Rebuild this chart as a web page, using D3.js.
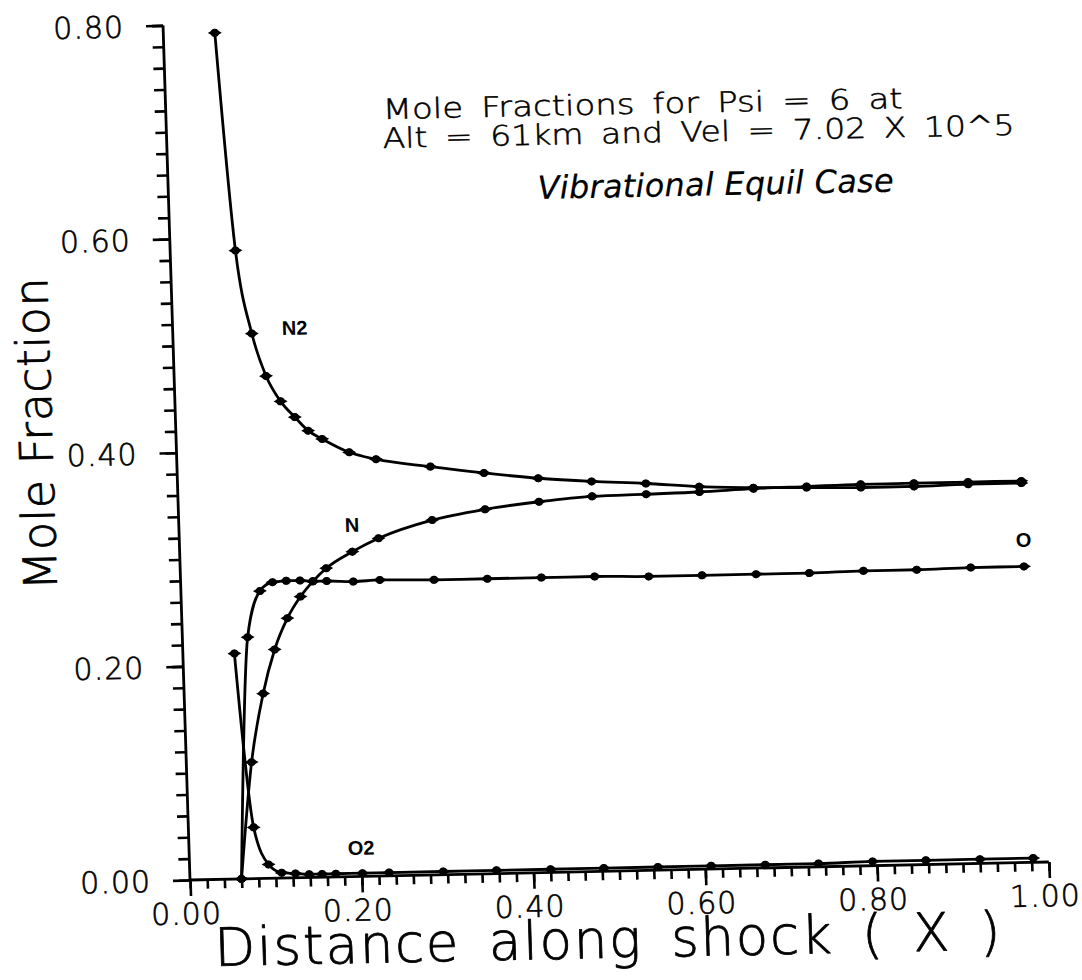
<!DOCTYPE html>
<html>
<head>
<meta charset="utf-8">
<script src="https://cdn.jsdelivr.net/npm/d3@7"></script>
<style>
  html, body { margin: 0; padding: 0; background: #fff; }
  svg { display: block; }
</style>
</head>
<body>
<svg id="chart" width="1082" height="980"></svg>
<script>
// Distance along the shock (shared by every species)
const distance = [0.060, 0.076, 0.092, 0.107, 0.123, 0.139, 0.154, 0.170, 0.201, 0.232,
                  0.295, 0.357, 0.420, 0.482, 0.545, 0.607, 0.670, 0.732, 0.795, 0.857, 0.920, 0.982];

// Mole fractions per species
const fracN2 = [0.792, 0.588, 0.510, 0.470, 0.446, 0.431, 0.418, 0.410, 0.397, 0.390,
                0.382, 0.375, 0.369, 0.365, 0.362, 0.358, 0.356, 0.355, 0.354, 0.354, 0.355, 0.355];
const fracN  = [0.000, 0.109, 0.173, 0.214, 0.243, 0.263, 0.277, 0.289, 0.304, 0.316,
                0.332, 0.341, 0.347, 0.351, 0.352, 0.353, 0.355, 0.356, 0.357, 0.357, 0.357, 0.357];
const fracO  = [0.000, 0.226, 0.269, 0.277, 0.278, 0.278, 0.277, 0.277, 0.276, 0.277,
                0.276, 0.276, 0.276, 0.276, 0.275, 0.275, 0.275, 0.275, 0.276, 0.276, 0.277, 0.277];
const fracO2 = [0.211, 0.048, 0.013, 0.005, 0.004, 0.003, 0.003, 0.003, 0.003, 0.003,
                0.003, 0.003, 0.003, 0.003, 0.003, 0.003, 0.003, 0.003, 0.004, 0.004, 0.004, 0.004];

const speciesNames = ["N2", "N", "O", "O2"];

// Axis ticks
const xMajorTicks = [0, 0.2, 0.4, 0.6, 0.8, 1.0];
const yMajorTicks = [0, 0.2, 0.4, 0.6, 0.8];
const xMinorStep = 0.02;
const yMinorStep = 0.02;

const titleLines = ["Mole Fractions for Psi = 6 at", "Alt = 61km and Vel = 7.02 X 10^5"];
const noteLine = "Vibrational Equil Case";
const xTitle = "Distance along shock ( X )";
const yTitle = "Mole Fraction";

// ---- layout ----
const ox = 190, oy = 880;          // plot origin
const plotW = 859, plotH = 855;
// The sheet sits slightly turned; the whole drawing shares this frame.
const tilt = { a: 0.9998, b: -0.02095, c: 0.03156, d: 0.99953 };
function toFrame(px, py) {
  const X = px - ox, Y = py - oy;
  return [ox + tilt.d * X - tilt.c * Y, oy - tilt.b * X + tilt.a * Y];
}

const svg = d3.select("#chart");
svg.append("rect").attr("width", 1082).attr("height", 980).attr("fill", "#fff");

const g = svg.append("g")
  .attr("transform", `translate(${ox},${oy}) matrix(${tilt.a},${tilt.b},${tilt.c},${tilt.d},0,0) translate(${-ox},${-oy})`);

const x = d3.scaleLinear().domain([0, 1]).range([ox, ox + plotW]);
const y = d3.scaleLinear().domain([0, 0.8]).range([oy, oy - plotH]);

// thin single-stroke plotter lettering, thickened slightly with an outline
const plotFont = "'DejaVu Sans', sans-serif";
function penText(sel, size, strokeW) {
  return sel.attr("font-family", plotFont)
    .attr("font-weight", 200)
    .attr("font-size", size)
    .attr("fill", "#000")
    .attr("stroke", "#000")
    .attr("stroke-width", strokeW)
    .attr("stroke-linejoin", "round");
}

// ---- axes ----
const xMinor = d3.range(0, 1 + 1e-9, xMinorStep);
const yMinor = d3.range(0, 0.8 + 1e-9, yMinorStep);

const xAxisMinor = g.append("g").attr("transform", `translate(0,${oy})`)
  .call(d3.axisBottom(x).tickValues(xMinor).tickSize(9).tickFormat(""));
const xAxisMajor = g.append("g").attr("transform", `translate(0,${oy})`)
  .call(d3.axisBottom(x).tickValues(xMajorTicks).tickSize(16).tickPadding(7).tickFormat(d3.format(".2f")));

const yAxisMinor = g.append("g").attr("transform", `translate(${ox},0)`)
  .call(d3.axisLeft(y).tickValues(yMinor).tickSize(11).tickFormat(""));
const yAxisMajor = g.append("g").attr("transform", `translate(${ox},0)`)
  .call(d3.axisLeft(y).tickValues(yMajorTicks).tickSize(17).tickPadding(22).tickFormat(d3.format(".2f")));

[xAxisMinor, xAxisMajor, yAxisMinor, yAxisMajor].forEach(ax => {
  ax.select(".domain").remove();
  ax.selectAll(".tick line").attr("stroke", "#000").attr("stroke-width", 2.6);
  penText(ax.selectAll("text"), 30, 0.6).attr("letter-spacing", 1);
});
xAxisMajor.selectAll("text").attr("dx", -5);
yAxisMajor.selectAll("text").attr("dy", "0.36em");

g.append("line").attr("x1", ox).attr("x2", ox + plotW).attr("y1", oy).attr("y2", oy)
  .attr("stroke", "#000").attr("stroke-width", 2.8);
g.append("line").attr("x1", ox).attr("x2", ox).attr("y1", oy).attr("y2", oy - plotH)
  .attr("stroke", "#000").attr("stroke-width", 2.8);

// ---- curves ----
const series = [fracN2, fracN, fracO, fracO2].map((vals, i) => ({
  name: speciesNames[i],
  pts: distance.map((d, j) => [d, vals[j]])
}));

const line = d3.line().x(d => x(d[0])).y(d => y(d[1])).curve(d3.curveMonotoneX);
const marker = d3.symbol().type(d3.symbolDiamond).size(56);

series.forEach(s => {
  g.append("path").attr("d", line(s.pts))
    .attr("fill", "none").attr("stroke", "#000").attr("stroke-width", 2.8);
  const m = g.append("g").selectAll("g").data(s.pts).join("g")
    .attr("transform", d => `translate(${x(d[0])},${y(d[1])})`);
  m.append("path").attr("d", marker).attr("transform", "rotate(90)").attr("fill", "#000");
  m.append("circle").attr("r", 4).attr("fill", "#000");
});

// ---- species labels ----
const labelFont = "'Liberation Sans', Arial, sans-serif";
const speciesLabelAt = { "N2": [282, 335], "N": [345, 532], "O": [1016, 547], "O2": [348, 855] };
speciesNames.forEach(nm => {
  const [lx, ly] = toFrame(...speciesLabelAt[nm]);
  g.append("text").attr("x", lx).attr("y", ly)
    .attr("font-family", labelFont).attr("font-weight", "bold").attr("font-size", 20)
    .attr("fill", "#000").text(nm);
});

// ---- titles ----
function placeText(str, px, py, size, len, strokeW, adjust) {
  const [lx, ly] = toFrame(px, py);
  return penText(g.append("text").attr("x", lx).attr("y", ly), size, strokeW)
    .attr("textLength", len).attr("lengthAdjust", adjust || "spacing")
    .text(str);
}

placeText(titleLines[0], 383, 119, 28, 520, 0.5, "spacingAndGlyphs").attr("word-spacing", 6);
placeText(titleLines[1], 383, 148, 28, 632, 0.5, "spacingAndGlyphs").attr("word-spacing", 6);
placeText(noteLine, 538, 199, 32, 356, 0.2).attr("font-style", "italic");

placeText(xTitle, 215, 966, 53, 786, 0.8).attr("word-spacing", 10);

// vertical axis title
{
  const [lx, ly] = toFrame(57, 590);
  penText(g.append("text"), 46, 0.8)
    .attr("transform", `translate(${lx},${ly}) rotate(-90)`)
    .attr("textLength", 313).attr("lengthAdjust", "spacing")
    .text(yTitle);
}
</script>
</body>
</html>
